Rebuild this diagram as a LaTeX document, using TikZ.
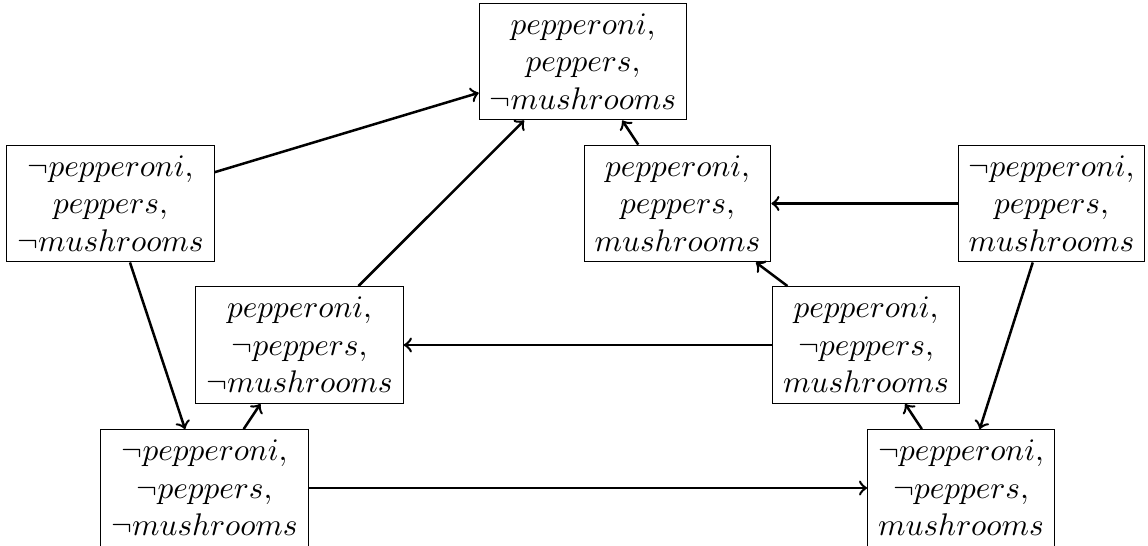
\documentclass[tikz,border=0pt]{standalone}
\begin{document}
\begin{tikzpicture}[x=0.3195pt,y=-0.3195pt,
  state/.style={draw,line width=0.4pt,align=center,inner sep=3.333pt},
  edge/.style={->,thick}]
\useasboundingbox (0,0) rectangle (1148,545);
\node[state] (a) at (583,61.5) {$pepperoni,$\\$peppers,$\\$\neg mushrooms$};
\node[state] (b) at (110.5,203.5) {$\neg pepperoni,$\\$peppers,$\\$\neg mushrooms$};
\node[state] (c) at (299.5,345) {$pepperoni,$\\$\neg peppers,$\\$\neg mushrooms$};
\node[state] (d) at (204.5,488) {$\neg pepperoni,$\\$\neg peppers,$\\$\neg mushrooms$};
\node[state] (e) at (677.5,203.5) {$pepperoni,$\\$peppers,$\\$mushrooms$};
\node[state] (f) at (1051.5,203.5) {$\neg pepperoni,$\\$peppers,$\\$mushrooms$};
\node[state] (g) at (866,345) {$pepperoni,$\\$\neg peppers,$\\$mushrooms$};
\node[state] (h) at (961,488) {$\neg pepperoni,$\\$\neg peppers,$\\$mushrooms$};
\draw[edge] (b) -- (a);
\draw[edge] (c) -- (a);
\draw[edge] (b) -- (d);
\draw[edge] (d) -- (c);
\draw[edge] (e) -- (a);
\draw[edge] (f) -- (e);
\draw[edge] (g) -- (e);
\draw[edge] (g) -- (c);
\draw[edge] (f) -- (h);
\draw[edge] (d) -- (h);
\draw[edge] (h) -- (g);
\end{tikzpicture}
\end{document}
